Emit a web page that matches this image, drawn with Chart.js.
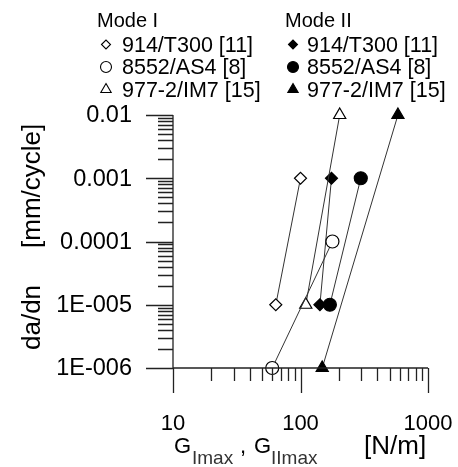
<!DOCTYPE html>
<html>
<head>
<meta charset="utf-8">
<script src="https://cdn.jsdelivr.net/npm/chart.js@4/dist/chart.umd.min.js"></script>
<style>
html, body { margin: 0; padding: 0; background: #fff; }
canvas { display: block; }
</style>
</head>
<body>
<canvas id="chart" width="458" height="467"></canvas>
<script>
// crack growth data
const materials = ['914/T300 [11]', '8552/AS4 [8]', '977-2/IM7 [15]'];
const modeHeaders = ['Mode I', 'Mode II'];

const modeI_914_G = [64, 100];
const modeI_914_rate = [1e-5, 1e-3];
const modeI_8552_G = [60, 178];
const modeI_8552_rate = [1e-6, 1e-4];
const modeI_977_G = [110, 203];
const modeI_977_rate = [1e-5, 1e-2];

const modeII_914_G = [142, 175];
const modeII_914_rate = [1e-5, 1e-3];
const modeII_8552_G = [170, 297];
const modeII_8552_rate = [1e-5, 1e-3];
const modeII_977_G = [148, 581];
const modeII_977_rate = [1e-6, 1e-2];

const xTickValues = [10, 100, 1000];
const xTickLabels = ['10', '100', '1000'];
const yTickValues = [1e-6, 1e-5, 1e-4, 1e-3, 1e-2];
const yTickLabels = ['1E-006', '1E-005', '0.0001', '0.001', '0.01'];

const FONT = "'Liberation Sans', Arial, sans-serif";
const styles = ['rectRot', 'circle', 'triangle'];
const radii = [6, 6.5, 7];

function pts(xs, ys) {
    return xs.map((x, i) => ({ x: x, y: ys[i] }));
}

function series(label, xs, ys, k, filled) {
    return {
        label: label,
        data: pts(xs, ys),
        showLine: true,
        clip: false,
        borderColor: '#333',
        borderWidth: 1,
        pointStyle: styles[k],
        pointRadius: radii[k],
        pointBorderWidth: 1.2,
        pointBorderColor: '#000',
        pointBackgroundColor: filled ? '#000' : '#fff'
    };
}

const datasets = [
    series('I ' + materials[0], modeI_914_G, modeI_914_rate, 0, false),
    series('I ' + materials[1], modeI_8552_G, modeI_8552_rate, 1, false),
    series('I ' + materials[2], modeI_977_G, modeI_977_rate, 2, false),
    series('II ' + materials[0], modeII_914_G, modeII_914_rate, 0, true),
    series('II ' + materials[1], modeII_8552_G, modeII_8552_rate, 1, true),
    series('II ' + materials[2], modeII_977_G, modeII_977_rate, 2, true)
];

function logTicks(min, max) {
    const out = [];
    const e0 = Math.round(Math.log10(min));
    const e1 = Math.round(Math.log10(max));
    for (let e = e0; e < e1; e++) {
        for (let k = 1; k < 10; k++) {
            out.push({ v: k * Math.pow(10, e), major: k === 1 });
        }
    }
    out.push({ v: max, major: true });
    return out;
}

const axesPlugin = {
    id: 'axes',
    afterDatasetsDraw(chart) {
        const ctx = chart.ctx;
        const xs = chart.scales.x, ys = chart.scales.y;
        const a = chart.chartArea;
        ctx.save();
        ctx.strokeStyle = '#222';
        ctx.lineWidth = 1.3;
        ctx.beginPath();
        ctx.moveTo(a.left, a.top);
        ctx.lineTo(a.left, a.bottom);
        ctx.lineTo(a.right, a.bottom);
        // ticks, outward
        logTicks(ys.min, ys.max).forEach(t => {
            const y = Math.round(ys.getPixelForValue(t.v)) + 0.5;
            ctx.moveTo(a.left - (t.major ? 27 : 15), y);
            ctx.lineTo(a.left, y);
        });
        logTicks(xs.min, xs.max).forEach(t => {
            const x = Math.round(xs.getPixelForValue(t.v)) + 0.5;
            ctx.moveTo(x, a.bottom);
            ctx.lineTo(x, a.bottom + (t.major ? 25 : 13));
        });
        ctx.stroke();

        ctx.fillStyle = '#000';
        ctx.font = '23.5px ' + FONT;
        ctx.textAlign = 'right';
        ctx.textBaseline = 'middle';
        yTickValues.forEach((v, i) => {
            ctx.fillText(yTickLabels[i], 132, ys.getPixelForValue(v) + 1);
        });
        ctx.font = '22px ' + FONT;
        ctx.textAlign = 'center';
        ctx.textBaseline = 'alphabetic';
        xTickValues.forEach((v, i) => {
            ctx.fillText(xTickLabels[i], xs.getPixelForValue(v), 430);
        });

        // axis titles
        ctx.textAlign = 'left';
        ctx.font = '22px ' + FONT;
        ctx.fillText('G', 174, 453);
        ctx.fillText(',', 240, 453);
        ctx.fillText('G', 254, 453);
        ctx.fillStyle = '#333';
        ctx.font = '19px ' + FONT;
        ctx.fillText('Imax', 192, 464);
        ctx.fillText('IImax', 271, 464);
        ctx.fillStyle = '#000';
        ctx.font = '26px ' + FONT;
        ctx.fillText('[N/m]', 364, 454);

        ctx.save();
        ctx.translate(40, 350);
        ctx.rotate(-Math.PI / 2);
        ctx.font = '26px ' + FONT;
        ctx.fillText('da/dn', 0, 0);
        ctx.fillText('[mm/cycle]', 102, 0);
        ctx.restore();

        // legend: two columns, headers above
        const cols = [{ head: 97, sym: 106, text: 122, filled: false },
                      { head: 285, sym: 293, text: 307, filled: true }];
        const rows = [51.5, 74, 96.5];
        const legR = [4.5, 5.5, 6];
        cols.forEach((c, ci) => {
            ctx.font = '20px ' + FONT;
            ctx.fillStyle = '#000';
            ctx.fillText(modeHeaders[ci], c.head, 27);
            ctx.font = '21.5px ' + FONT;
            materials.forEach((m, ri) => {
                ctx.fillStyle = '#000';
                ctx.fillText(m, c.text, rows[ri]);
                ctx.fillStyle = c.filled ? '#000' : '#fff';
                ctx.strokeStyle = '#000';
                ctx.lineWidth = 1.1;
                Chart.helpers.drawPoint(ctx, {
                    pointStyle: styles[ri], radius: legR[ri], borderWidth: 1.1, rotation: 0
                }, c.sym, rows[ri] - 7);
            });
        });
        ctx.restore();
    }
};

new Chart(document.getElementById('chart').getContext('2d'), {
    type: 'scatter',
    data: { datasets: datasets },
    options: {
        responsive: false,
        animation: false,
        devicePixelRatio: 1,
        layout: { padding: { left: 173, top: 115, right: 30, bottom: 99 } },
        plugins: { legend: { display: false }, tooltip: { enabled: false } },
        scales: {
            x: { type: 'logarithmic', min: 10, max: 1000, display: false },
            y: { type: 'logarithmic', min: 1e-6, max: 1e-2, display: false }
        }
    },
    plugins: [axesPlugin]
});
</script>
</body>
</html>
